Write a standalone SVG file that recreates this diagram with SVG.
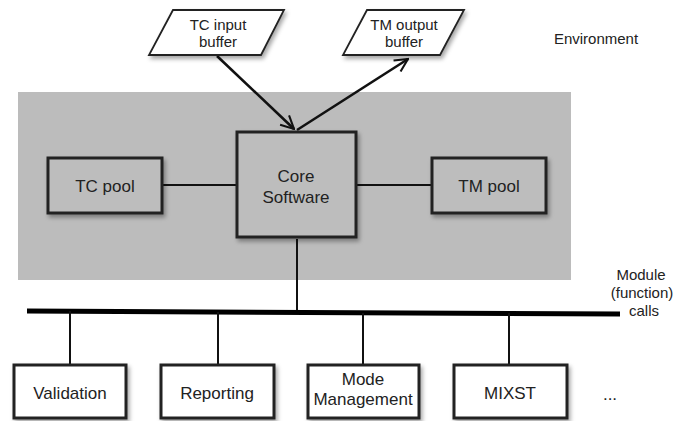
<svg xmlns="http://www.w3.org/2000/svg" width="677" height="421" viewBox="0 0 677 421">
  <style>
    text { font-family: "Liberation Sans", Arial, sans-serif; fill: #222; text-anchor: middle; }
    .lbl { font-size: 17px; }
    .buf { font-size: 15px; }
    .note { font-size: 15px; }
    .box { stroke: #222; stroke-width: 3; }
    .gbox { fill: #bdbdbd; }
    .wbox { fill: #ffffff; }
    .para { fill: #ffffff; stroke: #222; stroke-width: 1.8; stroke-linejoin: miter; }
    .wire { stroke: #111; stroke-width: 2; fill: none; }
    .arrow { stroke: #111; stroke-width: 2.6; fill: none; marker-end: url(#head); }
  </style>
  <defs>
    <marker id="head" viewBox="0 0 12 12" refX="11" refY="6" markerWidth="6" markerHeight="6" markerUnits="strokeWidth" orient="auto">
      <path d="M1,1 L11,6 L1,11" fill="none" stroke="#111" stroke-width="1.6"/>
    </marker>
    <filter id="shadow" x="-20%" y="-20%" width="150%" height="150%">
      <feDropShadow dx="2" dy="3" stdDeviation="2" flood-color="#000" flood-opacity="0.35"/>
    </filter>
  </defs>

  <!-- software boundary -->
  <rect x="18" y="92" width="553" height="188" fill="#bcbcbc"/>

  <!-- connectors -->
  <g id="connectors">
    <line class="wire" x1="162" y1="185" x2="237" y2="185"/>
    <line class="wire" x1="356" y1="185" x2="432" y2="185"/>
    <line class="wire" x1="297" y1="239" x2="297" y2="312"/>
    <line x1="27" y1="311" x2="620" y2="314" stroke="#000" stroke-width="5"/>
    <line class="wire" x1="70" y1="311" x2="70" y2="364"/>
    <line class="wire" x1="218" y1="312" x2="218" y2="364"/>
    <line class="wire" x1="363" y1="313" x2="363" y2="364"/>
    <line class="wire" x1="509" y1="313" x2="509" y2="364"/>
    <line class="arrow" x1="217" y1="56" x2="294" y2="129"/>
    <line class="arrow" x1="297" y1="130" x2="408" y2="59"/>
  </g>

  <!-- buffers -->
  <g id="tc-input-buffer">
    <polygon class="para" points="173,10 284,10 261,55 149,55" filter="url(#shadow)"/>
    <text class="buf" x="218" y="30">TC input</text>
    <text class="buf" x="218" y="47">buffer</text>
  </g>
  <g id="tm-output-buffer">
    <polygon class="para" points="367,10 464,10 440,55 343,55" filter="url(#shadow)"/>
    <text class="buf" x="404" y="30">TM output</text>
    <text class="buf" x="404" y="47">buffer</text>
  </g>

  <!-- inner nodes -->
  <g id="tc-pool">
    <rect class="box gbox" x="48" y="158" width="114" height="55" filter="url(#shadow)"/>
    <text class="lbl" x="105" y="192">TC pool</text>
  </g>
  <g id="core-software">
    <rect class="box gbox" x="237" y="132" width="119" height="105" stroke-width="4" filter="url(#shadow)"/>
    <text class="lbl" x="296" y="182">Core</text>
    <text class="lbl" x="296" y="203">Software</text>
  </g>
  <g id="tm-pool">
    <rect class="box gbox" x="432" y="158" width="114" height="55" filter="url(#shadow)"/>
    <text class="lbl" x="489" y="192">TM pool</text>
  </g>

  <!-- modules -->
  <g id="validation">
    <rect class="box wbox" x="14" y="365" width="112" height="53" filter="url(#shadow)"/>
    <text class="lbl" x="70" y="399">Validation</text>
  </g>
  <g id="reporting">
    <rect class="box wbox" x="161" y="365" width="113" height="53" filter="url(#shadow)"/>
    <text class="lbl" x="217" y="399">Reporting</text>
  </g>
  <g id="mode-management">
    <rect class="box wbox" x="308" y="365" width="111" height="53" filter="url(#shadow)"/>
    <text class="lbl" x="363" y="385">Mode</text>
    <text class="lbl" x="363" y="405">Management</text>
  </g>
  <g id="mixst">
    <rect class="box wbox" x="454" y="365" width="113" height="53" filter="url(#shadow)"/>
    <text class="lbl" x="510" y="399">MIXST</text>
  </g>
  <text class="lbl" x="610" y="400">...</text>

  <!-- annotations -->
  <text class="note" x="596" y="44">Environment</text>
  <text class="note" x="641" y="280">Module</text>
  <text class="note" x="642" y="298">(function)</text>
  <text class="note" x="644" y="316">calls</text>
</svg>
